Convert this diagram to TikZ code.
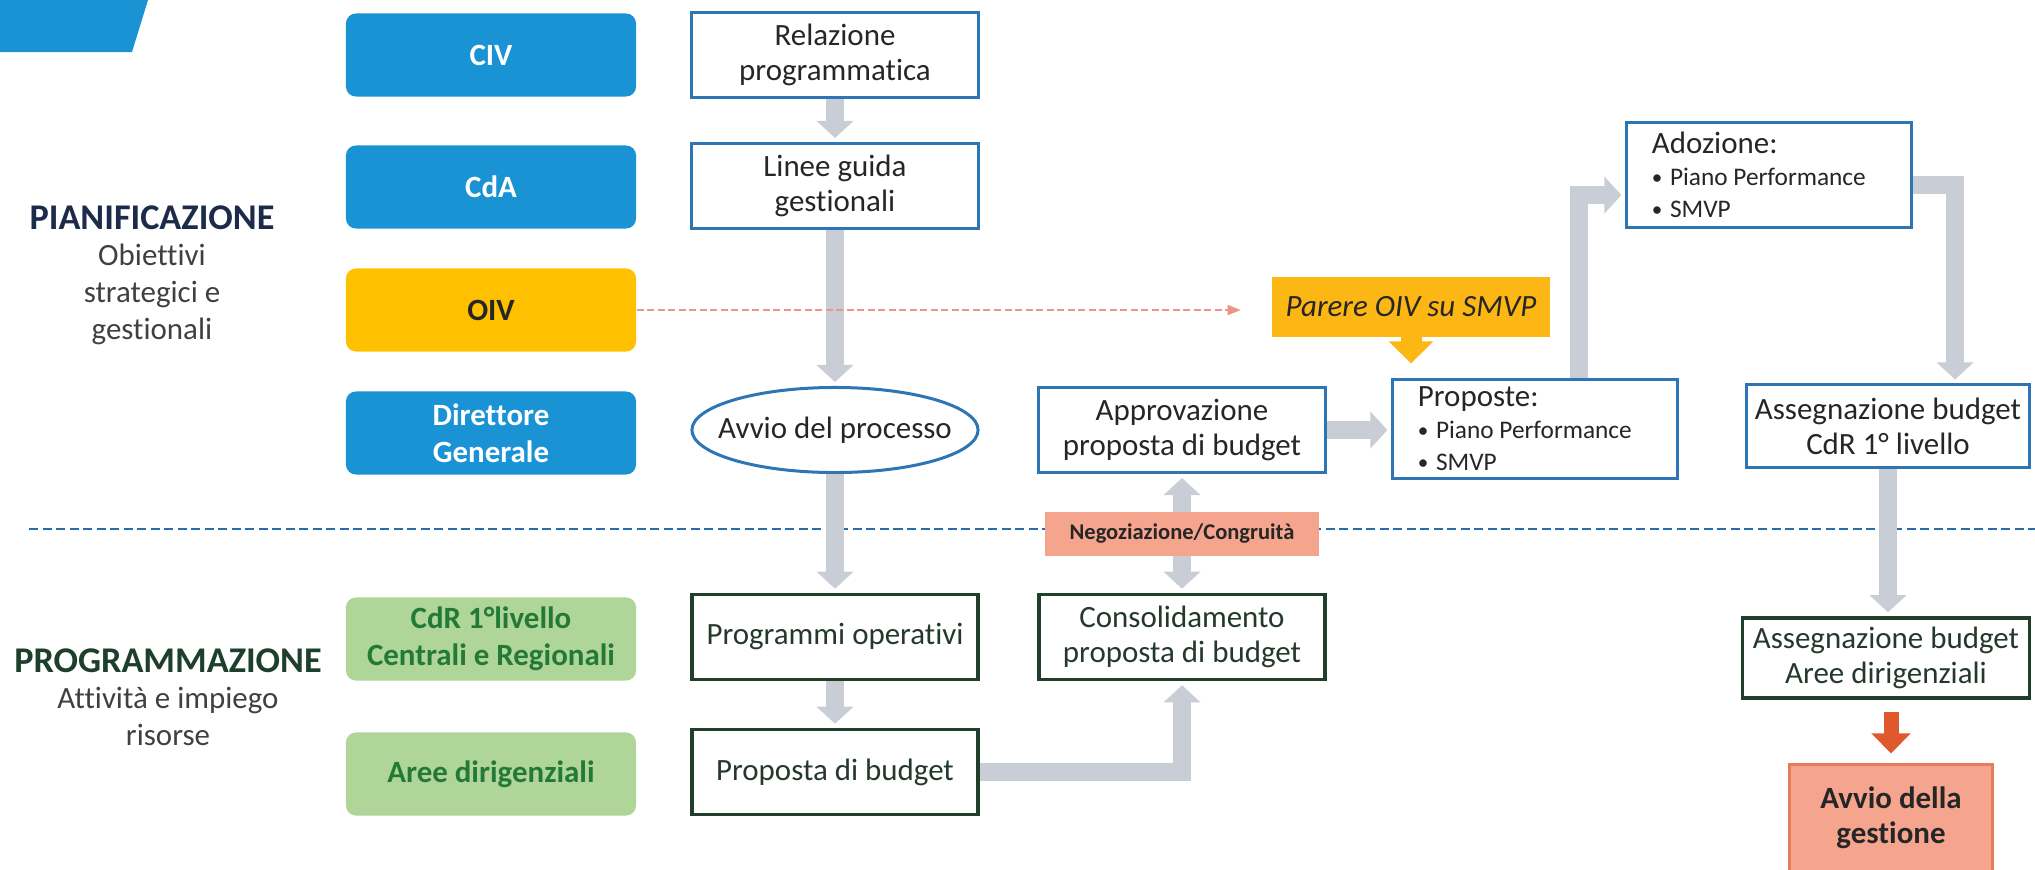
\documentclass[tikz,border=0pt]{standalone}
\usepackage{fontspec}
\setmainfont{Carlito}[Ligatures={NoCommon}, RawFeature={-liga;-clig;-calt;-dlig}]
\usetikzlibrary{arrows.meta,calc,shapes.geometric}

\definecolor{actorblue}{HTML}{1A93D5}
\definecolor{oivyellow}{HTML}{FFC000}
\definecolor{parereorange}{HTML}{FDB714}
\definecolor{actorgreen}{HTML}{B0D598}
\definecolor{greentext}{HTML}{237A37}
\definecolor{boxblue}{HTML}{2E75B6}
\definecolor{boxgreen}{HTML}{203F2B}
\definecolor{flowgray}{HTML}{C9CDD6}
\definecolor{salmon}{HTML}{F5A48E}
\definecolor{salmonedge}{HTML}{E57C5C}
\definecolor{startred}{HTML}{E0592C}
\definecolor{oivred}{HTML}{E8958A}
\definecolor{sepblue}{HTML}{2B6CA8}
\definecolor{inktext}{HTML}{262626}
\definecolor{lowtext}{HTML}{24382B}
\definecolor{plantext}{HTML}{1C2B4A}
\definecolor{progtext}{HTML}{1D3F2B}
\definecolor{subtext}{HTML}{404040}

\newcommand{\pointitem}[1]{\mbox{\fontsize{7.2}{9.1}\selectfont\raisebox{0.3pt}{\fontsize{6}{7}\selectfont\textbullet}\hspace{0.3em}#1}}

\tikzset{
  actor/.style={rounded corners=1mm, minimum width=2.9cm, minimum height=0.83cm, inner sep=0pt,
    align=flush center, font=\fontsize{8.8}{10.5}\selectfont\bfseries},
  actorup/.style={actor, fill=actorblue, text=white},
  actoroiv/.style={actor, fill=oivyellow, text=inktext},
  actordown/.style={actor, fill=actorgreen, text=greentext},
  stepup/.style={draw=boxblue, line width=0.3mm, fill=white, minimum width=2.86cm, minimum height=0.85cm,
    inner sep=0pt, align=flush center, text=inktext, font=\fontsize{8.8}{10}\selectfont},
  stepdown/.style={stepup, draw=boxgreen, line width=0.35mm, text=lowtext},
  listbox/.style={stepup, align=flush left, minimum width=2.84cm, text width=2.34cm, inner xsep=2.5mm,
    font=\fontsize{8.8}{9.1}\selectfont},
  startnode/.style={ellipse, draw=boxblue, line width=0.3mm, minimum width=2.86cm, minimum height=0.85cm,
    inner sep=0pt, text=inktext, font=\fontsize{8.8}{10}\selectfont},
  opinion/.style={fill=parereorange, minimum width=2.77cm, minimum height=0.59cm, inner sep=0pt,
    text=inktext, font=\fontsize{8.8}{10}\selectfont\itshape},
  negotiation/.style={fill=salmon, minimum width=2.73cm, minimum height=0.43cm, inner sep=0pt,
    text=inktext, font=\fontsize{6.4}{7}\selectfont\bfseries},
  kickoff/.style={fill=salmon, draw=salmonedge, line width=0.3mm, minimum width=2.02cm, minimum height=1.06cm,
    inner sep=0pt, align=flush center, text=inktext, font=\fontsize{8.8}{10}\selectfont\bfseries},
  phase/.style={align=flush center, inner sep=0pt, text=subtext, font=\fontsize{8.8}{10.4}\selectfont},
  flow/.style={flowgray, line width=1.8mm, shorten >=0.4mm, -{Triangle[length=1.7mm, width=3.6mm]}},
  flowboth/.style={flow, shorten <=0.4mm, {Triangle[length=1.7mm, width=3.6mm]}-{Triangle[length=1.7mm, width=3.6mm]}},
  startarrow/.style={startred, line width=1.5mm, shorten <=1.2mm, shorten >=1mm, -{Triangle[length=2mm, width=3.8mm]}},
  parerearrow/.style={parereorange, line width=2.1mm, shorten >=1.5mm, -{Triangle[length=2.2mm, width=4.3mm]}},
  oivlink/.style={oivred, line width=0.2mm, dash pattern=on 0.7mm off 0.35mm, shorten >=3.1mm,
    -{Triangle[length=1.3mm, width=1mm]}},
  separator/.style={sepblue, line width=0.25mm, dash pattern=on 0.9mm off 0.45mm}
}

\begin{document}
\begin{tikzpicture}[x=0.01cm, y=-0.01cm]
  \useasboundingbox (0, 0) rectangle (2035, 869);
  \clip (0, 0) rectangle (2035, 869);
  \fill[actorblue] (0, 0) -- (148, 0) -- (132, 52) -- (0, 52) -- cycle;

  % phases
  \node[phase] (pian) at (152, 275) {{\fontsize{10.3}{10.4}\selectfont\bfseries\color{plantext}PIANIFICAZIONE}\\Obiettivi\\strategici e\\gestionali};
  \node[phase] (prog) at (168, 697) {{\fontsize{10.3}{10.4}\selectfont\bfseries\color{progtext}PROGRAMMAZIONE}\\Attività e impiego\\risorse};
  \draw[separator] (29, 529) -- (2035, 529);

  % actors
  \node[actorup] (civ) at (491, 55) {CIV};
  \node[actorup] (cda) at (491, 187) {CdA};
  \node[actoroiv] (oiv) at (491, 310) {OIV};
  \node[actorup] (dg) at (491, 433) {Direttore\\Generale};
  \node[actordown] (cdr) at (491, 639) {CdR 1°livello\\Centrali e Regionali};
  \node[actordown] (aree) at (491, 774) {Aree dirigenziali};

  % process steps
  \node[stepup] (relaz) at (835, 55) {Relazione\\programmatica};
  \node[stepup] (linee) at (835, 186) {Linee guida\\gestionali};
  \node[startnode] (avvio) at (835, 430) {\makebox[0pt]{Avvio del processo}};
  \node[stepdown] (progr) at (835, 637) {Programmi operativi};
  \node[stepdown] (propbud) at (835, 772) {Proposta di budget};
  \node[stepup] (approv) at (1182, 430) {Approvazione\\proposta di budget};
  \node[stepdown] (consol) at (1182, 637) {Consolidamento\\proposta di budget};
  \node[opinion] (parere) at (1411, 307) {Parere OIV su SMVP};
  \node[listbox, minimum height=0.98cm] (proposte) at (1535, 429) {Proposte:\\\pointitem{Piano Performance}\\\pointitem{SMVP}};
  \node[listbox, minimum height=1.04cm] (adoz) at (1769, 175) {Adozione:\\\pointitem{Piano Performance}\\\pointitem{SMVP}};
  \node[stepup, minimum width=2.83cm, minimum height=0.82cm] (asscdr) at (1888, 426) {Assegnazione budget\\CdR 1° livello};
  \node[stepdown, minimum width=2.87cm, minimum height=0.8cm] (assaree) at (1886, 658) {Assegnazione budget\\Aree dirigenziali};
  \node[kickoff] (avviogest) at (1891, 818) {Avvio della\\gestione};

  % connections
  \draw[flow] (relaz) -- (linee);
  \draw[flow] (linee) -- (avvio);
  \draw[flow] (avvio) -- (progr);
  \draw[flow] (progr) -- (propbud);
  \draw[flow] (propbud.east) -| (consol.south);
  \draw[flowboth] (consol) -- (approv);
  \draw[flow] (approv.east) -- (approv.east -| proposte.west);
  \draw[flow] ([xshift=4.4mm]proposte.north) |- ([yshift=-2mm]adoz.west);
  \draw[flow] ([yshift=-1mm]adoz.east) -| ([xshift=6.7mm]asscdr.north);
  \draw[flow] (asscdr.south) -- (asscdr.south |- assaree.north);
  \draw[startarrow] (avviogest.north |- assaree.south) -- (avviogest.north);
  \draw[parerearrow] (parere.south) -- (parere.south |- proposte.north);
  \draw[oivlink] (oiv.east) -- (oiv.east -| parere.west);
  \node[negotiation] (negoz) at (1182, 534) {Negoziazione/Congruità};
\end{tikzpicture}
\end{document}
